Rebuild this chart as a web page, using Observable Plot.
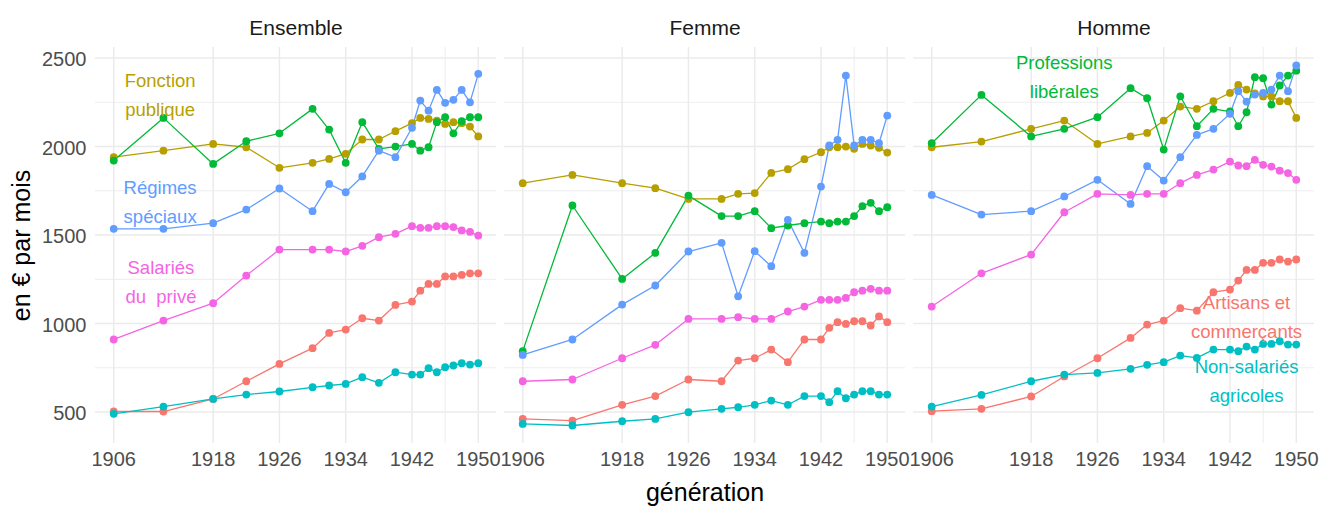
<!DOCTYPE html>
<html>
<head>
<meta charset="utf-8">
<script src="https://cdn.jsdelivr.net/npm/d3@7"></script>
<script src="https://cdn.jsdelivr.net/npm/@observablehq/plot@0.6"></script>
<style>
  html, body { margin: 0; padding: 0; background: #ffffff; }
  #chart svg { display: block; }
</style>
</head>
<body>
<div id="chart"></div>
<script>
// ---------- data ----------
const generations = [1906, 1912, 1918, 1922, 1926, 1930, 1932, 1934, 1936, 1938, 1940, 1942, 1943, 1944, 1945, 1946, 1947, 1948, 1949, 1950];
const panels = ["Ensemble", "Femme", "Homme"];
const categories = ["Artisans et commerçants", "Fonction publique", "Professions libérales", "Non-salariés agricoles", "Régimes spéciaux", "Salariés du privé"];
const colors = ["#F8766D", "#B79F00", "#00BA38", "#00BFC4", "#619CFF", "#F564E3"];

// Ensemble
const ensembleArtisans   = [503, 503, 574, 674, 772, 861, 947, 966, 1030, 1017, 1105, 1124, 1186, 1224, 1224, 1266, 1266, 1275, 1284, 1284];
const ensembleFonction   = [1940, 1977, 2015, 1996, 1880, 1908, 1930, 1959, 2040, 2040, 2087, 2132, 2162, 2156, 2147, 2128, 2138, 2132, 2113, 2057];
const ensembleLiberales  = [1921, 2162, 1902, 2030, 2075, 2213, 2096, 1908, 2138, 1987, 2000, 2015, 1977, 1996, 2138, 2166, 2075, 2143, 2166, 2166];
const ensembleAgricoles  = [490, 531, 574, 599, 616, 640, 650, 659, 697, 665, 725, 712, 712, 748, 725, 753, 763, 776, 768, 776];
const ensembleRegimes    = [1535, 1535, 1567, 1644, 1763, 1635, 1789, 1742, 1831, 1977, 1940, 2106, 2260, 2203, 2320, 2247, 2264, 2320, 2250, 2411];
const ensembleSalaries   = [910, 1017, 1115, 1271, 1418, 1418, 1418, 1407, 1439, 1488, 1507, 1550, 1541, 1541, 1550, 1550, 1545, 1526, 1518, 1497];

// Femme
const femmeArtisans  = [461, 452, 541, 590, 684, 674, 791, 804, 853, 782, 910, 910, 976, 1008, 998, 1013, 1013, 989, 1040, 1008];
const femmeFonction  = [1793, 1840, 1793, 1765, 1704, 1704, 1733, 1737, 1851, 1872, 1929, 1968, 1996, 1996, 2000, 1987, 2015, 2006, 1993, 1966];
const femmeLiberales = [844, 1667, 1252, 1399, 1723, 1607, 1607, 1635, 1539, 1554, 1567, 1576, 1567, 1576, 1576, 1607, 1663, 1682, 1635, 1657];
const femmeAgricoles = [433, 424, 448, 461, 499, 518, 527, 541, 565, 541, 590, 590, 556, 618, 578, 599, 618, 618, 599, 599];
const femmeRegimes   = [823, 910, 1107, 1215, 1407, 1456, 1154, 1409, 1324, 1586, 1399, 1774, 2006, 2038, 2401, 2006, 2038, 2038, 2019, 2175];
const femmeSalaries  = [674, 684, 804, 880, 1026, 1026, 1036, 1026, 1026, 1068, 1096, 1134, 1134, 1134, 1145, 1177, 1186, 1196, 1186, 1186];

// Homme
const hommeArtisans  = [505, 518, 588, 701, 804, 919, 994, 1017, 1087, 1073, 1177, 1192, 1243, 1303, 1303, 1343, 1343, 1362, 1350, 1362];
const hommeFonction  = [1996, 2028, 2100, 2147, 2015, 2057, 2077, 2147, 2226, 2213, 2256, 2303, 2348, 2322, 2301, 2283, 2283, 2256, 2256, 2162];
const hommeLiberales = [2019, 2292, 2057, 2100, 2166, 2330, 2273, 1983, 2284, 2115, 2213, 2198, 2115, 2194, 2392, 2386, 2237, 2345, 2401, 2429];
const hommeAgricoles = [531, 597, 674, 712, 721, 744, 767, 782, 819, 806, 853, 853, 844, 870, 853, 885, 885, 900, 881, 881];
const hommeRegimes   = [1727, 1616, 1635, 1718, 1812, 1676, 1889, 1808, 1940, 2066, 2100, 2185, 2313, 2254, 2294, 2303, 2322, 2401, 2313, 2458];
const hommeSalaries  = [1096, 1284, 1390, 1629, 1733, 1727, 1733, 1733, 1793, 1840, 1870, 1915, 1893, 1889, 1925, 1897, 1887, 1864, 1850, 1812];

// axis ticks
const xTicks = [1906, 1918, 1926, 1934, 1942, 1950];
const xMinor = [1946];
const yTicks = [500, 1000, 1500, 2000, 2500];
const yMinor = [750, 1250, 1750, 2250];

// direct labels
const labelTexts  = ["Fonction\npublique", "Régimes\nspéciaux", "Salariés\ndu\u00a0 privé", "Professions\nlibérales", "Artisans et\ncommerçants", "Non-salariés\nagricoles"];
const labelCats   = ["Fonction publique", "Régimes spéciaux", "Salariés du privé", "Professions libérales", "Artisans et commerçants", "Non-salariés agricoles"];
const labelPanels = ["Ensemble", "Ensemble", "Ensemble", "Homme", "Homme", "Homme"];
const labelYears  = [1911.6, 1911.6, 1911.7, 1922, 1944, 1944];
const labelValues = [2305, 1701, 1252, 2407, 1054, 690];

// ---------- build table ----------
const seriesTable = {
  "Ensemble": [ensembleArtisans, ensembleFonction, ensembleLiberales, ensembleAgricoles, ensembleRegimes, ensembleSalaries],
  "Femme":    [femmeArtisans, femmeFonction, femmeLiberales, femmeAgricoles, femmeRegimes, femmeSalaries],
  "Homme":    [hommeArtisans, hommeFonction, hommeLiberales, hommeAgricoles, hommeRegimes, hommeSalaries]
};
const rows = [];
panels.forEach(p => {
  seriesTable[p].forEach((vals, ci) => {
    vals.forEach((v, i) => rows.push({panel: p, cat: categories[ci], gen: generations[i], value: v}));
  });
});
const labelRows = labelTexts.map((t, i) => ({text: t, cat: labelCats[i], panel: labelPanels[i], year: labelYears[i], value: labelValues[i]}));

// ggplot-like 5% expansion
const [x0, x1] = d3.extent(generations);
const [y0, y1] = d3.extent(rows, d => d.value);
const xPad = (x1 - x0) * 0.05, yPad = (y1 - y0) * 0.05;

const FONT = "'Liberation Sans', Arial, Helvetica, sans-serif";

const chart = Plot.plot({
  width: 1322,
  height: 507,
  marginLeft: 95,
  marginRight: 8,
  marginTop: 47,
  marginBottom: 64,
  style: {fontFamily: FONT, background: "#ffffff"},
  fx: {domain: panels, paddingInner: 0.0196, paddingOuter: 0, label: null},
  x: {domain: [x0 - xPad, x1 + xPad]},
  y: {domain: [y0 - yPad, y1 + yPad]},
  color: {domain: categories, range: colors},
  marks: [
    Plot.ruleY(yMinor, {stroke: "#ebebeb", strokeWidth: 0.9}),
    Plot.ruleX(xMinor, {stroke: "#ebebeb", strokeWidth: 0.9}),
    Plot.ruleY(yTicks, {stroke: "#ebebeb", strokeWidth: 1.5}),
    Plot.ruleX(xTicks, {stroke: "#ebebeb", strokeWidth: 1.5}),
    Plot.axisFx({anchor: "top", tickSize: 0, tickPadding: 13, fontSize: 21, fill: "#1a1a1a", label: null}),
    Plot.axisX({ticks: xTicks, tickFormat: d => String(d), tickSize: 0, tickPadding: 8, fontSize: 20, fill: "#4d4d4d", label: null}),
    Plot.axisX({ticks: [], label: "génération", labelAnchor: "center", labelArrow: "none", fontSize: 25, fill: "#000000", labelOffset: 57}),
    Plot.axisY({ticks: yTicks, tickFormat: d => String(d), tickSize: 0, tickPadding: 9, fontSize: 20, fill: "#4d4d4d", label: null, dy: 2}),
    Plot.axisY({ticks: [], label: "en € par mois", labelAnchor: "center", labelArrow: "none", fontSize: 25, fill: "#000000", labelOffset: 83}),
    Plot.line(rows, {x: "gen", y: "value", z: "cat", stroke: "cat", fx: "panel", strokeWidth: 1.3}),
    Plot.dot(rows, {x: "gen", y: "value", fill: "cat", fx: "panel", r: 3.9}),
    Plot.text(labelRows, {x: "year", y: "value", fx: "panel", text: "text", fill: "cat", fontSize: 18.5, lineHeight: 1.57})
  ]
});
document.getElementById("chart").appendChild(chart);
</script>
</body>
</html>
